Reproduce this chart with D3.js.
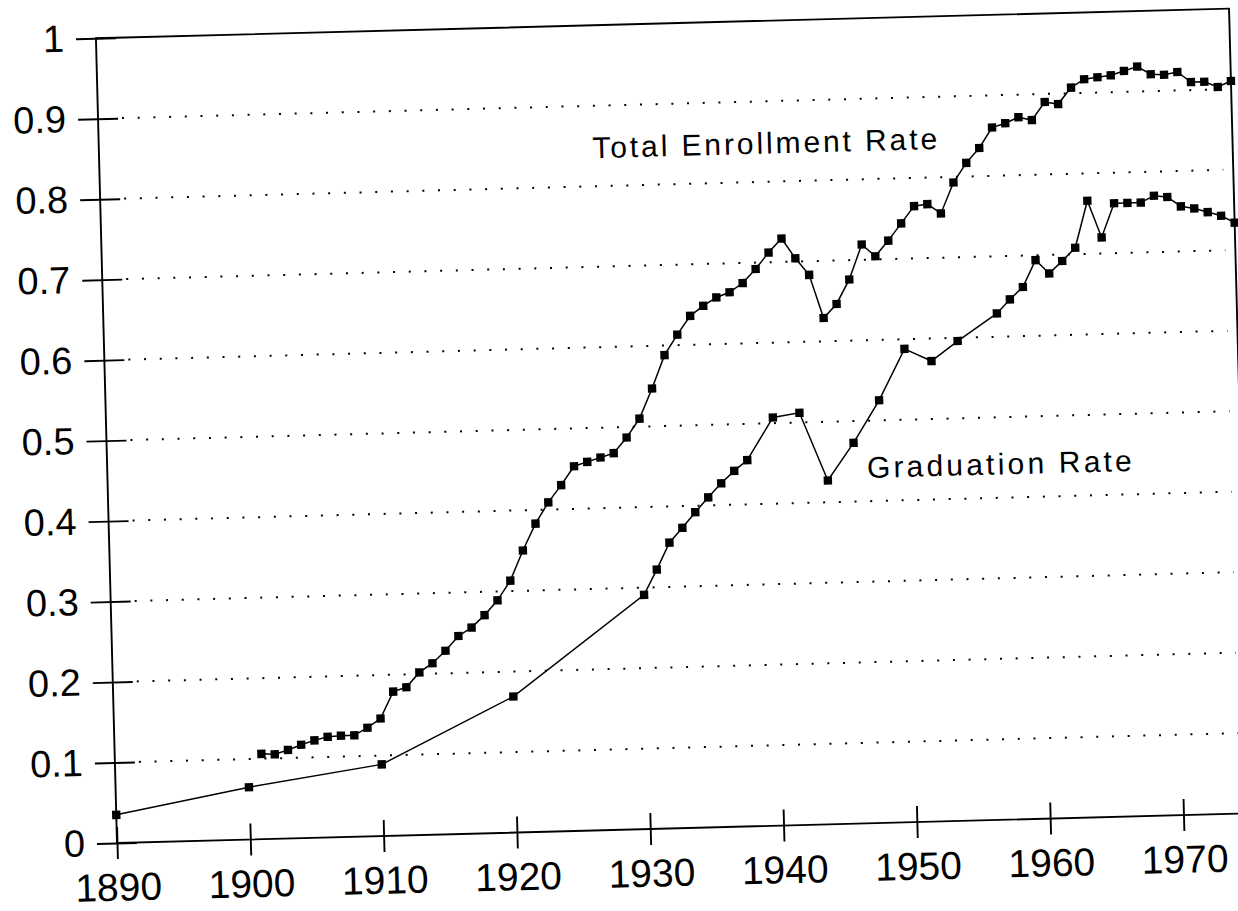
<!DOCTYPE html>
<html>
<head>
<meta charset="utf-8">
<script src="https://cdn.jsdelivr.net/npm/d3@7"></script>
<style>
  html, body { margin: 0; padding: 0; background: #fff; }
  svg { display: block; }
</style>
</head>
<body>
<script>
// datos (tasa de matricula y de graduacion)
var enrollYears = d3.range(1901, 1976);
var enrollRate = [
  0.106, 0.105, 0.110, 0.116, 0.121, 0.125, 0.126, 0.126, 0.135, 0.146,
  0.179, 0.184, 0.202, 0.213, 0.228, 0.246, 0.256, 0.271, 0.289, 0.313,
  0.350, 0.383, 0.409, 0.430, 0.453, 0.458, 0.463, 0.468, 0.487, 0.510,
  0.547, 0.588, 0.613, 0.636, 0.648, 0.658, 0.664, 0.675, 0.692, 0.712,
  0.729, 0.704, 0.683, 0.629, 0.646, 0.676, 0.719, 0.704, 0.723, 0.744,
  0.765, 0.767, 0.755, 0.793, 0.817, 0.835, 0.860, 0.865, 0.872, 0.868,
  0.890, 0.887, 0.907, 0.917, 0.919, 0.921, 0.926, 0.931, 0.921, 0.920,
  0.923, 0.910, 0.910, 0.903, 0.910
];

var gradYears = [1890, 1900, 1910, 1920, 1930, 1931, 1932, 1933, 1934, 1935,
  1936, 1937, 1938, 1940, 1942, 1944, 1946, 1948, 1950, 1952, 1954, 1957,
  1958, 1959, 1960, 1961, 1962, 1963, 1964, 1965, 1966, 1967, 1968, 1969,
  1970, 1971, 1972, 1973, 1974, 1975];
var gradRate = [0.035, 0.065, 0.089, 0.169, 0.291, 0.322, 0.355, 0.373, 0.392, 0.410,
  0.427, 0.442, 0.455, 0.507, 0.512, 0.427, 0.473, 0.525, 0.588, 0.572, 0.596, 0.629,
  0.646, 0.661, 0.694, 0.677, 0.692, 0.708, 0.766, 0.720, 0.762, 0.762, 0.762, 0.770,
  0.768, 0.756, 0.753, 0.748, 0.743, 0.734];

var xTicks = [1890, 1900, 1910, 1920, 1930, 1940, 1950, 1960, 1970];
var yTicks = [0, 0.1, 0.2, 0.3, 0.4, 0.5, 0.6, 0.7, 0.8, 0.9, 1];
var gridValues = [0.1, 0.2, 0.3, 0.4, 0.5, 0.6, 0.7, 0.8, 0.9];

var enrollLabel = "Total Enrollment Rate";
var gradLabel = "Graduation Rate";

var enroll = enrollYears.map((yr, i) => ({ year: yr, value: enrollRate[i] }));
var grad = gradYears.map((yr, i) => ({ year: yr, value: gradRate[i] }));

var W = 1238, H = 911;
var w = 1133.5, h = 805;
var font = "'Liberation Sans', Arial, Helvetica, sans-serif";

var svg = d3.select("body").append("svg")
    .attr("width", W)
    .attr("height", H);

svg.append("rect").attr("width", W).attr("height", H).attr("fill", "#fff");

// la hoja escaneada esta un poco girada
var g = svg.append("g")
    .attr("transform", "translate(117,843) rotate(-1.5) translate(0," + (-h) + ")");

var x = d3.scaleLinear().domain([1890, 1975]).range([0, w]);
var y = d3.scaleLinear().domain([0, 1]).range([h, 0]);

// lineas punteadas
g.selectAll("line.grid")
  .data(gridValues)
  .enter()
  .append("line")
    .attr("class", "grid")
    .attr("x1", 24)
    .attr("x2", w - 10)
    .attr("y1", d => y(d))
    .attr("y2", d => y(d))
    .attr("stroke", "#000")
    .attr("stroke-width", 2)
    .attr("stroke-dasharray", "2 13.7");

// marco
g.append("rect")
    .attr("x", 0).attr("y", 0)
    .attr("width", w).attr("height", h)
    .attr("fill", "none")
    .attr("stroke", "#000")
    .attr("stroke-width", 1.9);

// eje Y
var yAxis = g.append("g")
    .call(d3.axisLeft(y).tickValues(yTicks).tickFormat(d3.format("")).tickSize(20).tickPadding(12));
yAxis.select(".domain").remove();
yAxis.selectAll(".tick line").attr("x1", 20).attr("stroke-width", 1.9);
yAxis.selectAll(".tick text")
    .attr("font-family", font)
    .attr("font-size", 38)
    .attr("fill", "#000");

// eje X
var xAxis = g.append("g")
    .attr("transform", "translate(0," + h + ")")
    .call(d3.axisBottom(x).tickValues(xTicks).tickFormat(d3.format("d")).tickSize(16).tickPadding(14));
xAxis.select(".domain").remove();
xAxis.selectAll(".tick line").attr("y1", -16).attr("stroke-width", 1.9);
xAxis.selectAll(".tick text")
    .attr("font-family", font)
    .attr("font-size", 39)
    .attr("fill", "#000");

var line = d3.line().x(d => x(d.year)).y(d => y(d.value));
var square = d3.symbol().type(d3.symbolSquare).size(70);

[enroll, grad].forEach(function(serie) {
  g.append("path")
      .datum(serie)
      .attr("d", line)
      .attr("fill", "none")
      .attr("stroke", "#000")
      .attr("stroke-width", 1.5);

  g.append("g")
    .selectAll("path")
    .data(serie)
    .enter()
    .append("path")
      .attr("d", square)
      .attr("transform", d => "translate(" + x(d.year) + "," + y(d.value) + ")")
      .attr("fill", "#000");
});

// etiquetas de las series
g.append("text")
    .attr("x", x(1927.0))
    .attr("y", y(0.835))
    .attr("font-family", font)
    .attr("font-size", 30)
    .attr("letter-spacing", 2.9)
    .text(enrollLabel);

g.append("text")
    .attr("x", x(1946.95))
    .attr("y", y(0.429))
    .attr("font-family", font)
    .attr("font-size", 30)
    .attr("letter-spacing", 3.2)
    .text(gradLabel);
</script>
</body>
</html>
